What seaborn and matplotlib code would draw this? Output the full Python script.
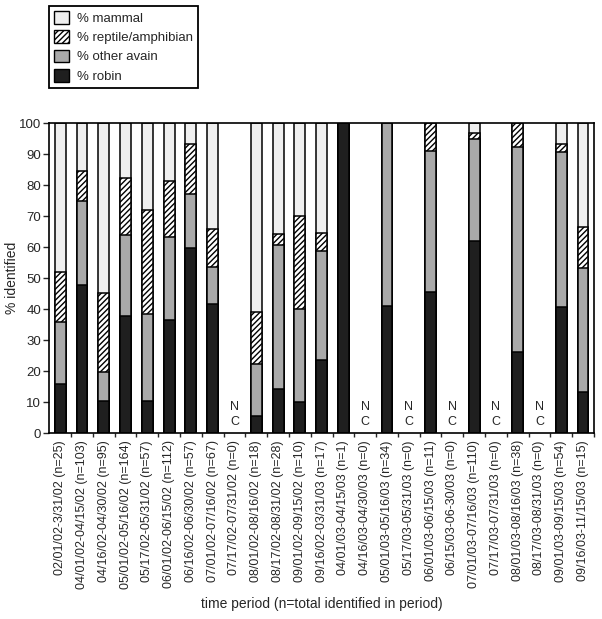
import pandas as pd
import seaborn as sns
import numpy as np
import matplotlib.pyplot as plt
from matplotlib.patches import Patch
from matplotlib.ticker import MultipleLocator, FixedLocator

# periods and their sample sizes
periods = ["02/01/02-3/31/02 (n=25)", "04/01/02-04/15/02 (n=103)", "04/16/02-04/30/02 (n=95)",
           "05/01/02-05/16/02 (n=164)", "05/17/02-05/31/02 (n=57)", "06/01/02-06/15/02 (n=112)",
           "06/16/02-06/30/02 (n=57)", "07/01/02-07/16/02 (n=67)", "07/17/02-07/31/02 (n=0)",
           "08/01/02-08/16/02 (n=18)", "08/17/02-08/31/02 (n=28)", "09/01/02-09/15/02 (n=10)",
           "09/16/02-03/31/03 (n=17)", "04/01/03-04/15/03 (n=1)", "04/16/03-04/30/03 (n=0)",
           "05/01/03-05/16/03 (n=34)", "05/17/03-05/31/03 (n=0)", "06/01/03-06/15/03 (n=11)",
           "06/15/03-06-30/03 (n=0)", "07/01/03-07/16/03 (n=110)", "07/17/03-07/31/03 (n=0)",
           "08/01/03-08/16/03 (n=38)", "08/17/03-08/31/03 (n=0)", "09/01/03-09/15/03 (n=54)",
           "09/16/03-11/15/03 (n=15)"]

# percent of prey identified in each period (nan = no collection)
nan = np.nan
robin = [16, 47.7, 10.5, 37.9, 10.5, 36.7, 59.7, 41.8, nan, 5.6, 14.3, 10, 23.5, 100, nan,
         41.2, nan, 45.5, nan, 62.1, nan, 26.3, nan, 40.8, 13.3]
other_avian = [20, 27.1, 9.2, 26.2, 28.1, 26.7, 17.5, 11.8, nan, 16.7, 46.4, 30, 35.3, 0, nan,
               58.8, nan, 45.5, nan, 32.8, nan, 66.1, nan, 50.1, 40]
reptile = [16, 9.9, 25.6, 18.4, 33.3, 18, 16.1, 12.2, nan, 16.7, 3.6, 30, 5.9, 0, nan,
           0, nan, 9.1, nan, 2.1, nan, 7.6, nan, 2.3, 13.3]
mammal = [48, 15.3, 54.7, 17.5, 28.1, 18.6, 6.7, 34.2, nan, 61.1, 35.7, 30, 35.3, 0, nan,
          0, nan, 0, nan, 3.0, nan, 0, nan, 6.8, 33.4]

df = pd.DataFrame({"period": periods, "robin": robin, "other": other_avian,
                   "reptile": reptile, "mammal": mammal})
# cumulative tops for stacking
df["top_robin"] = df["robin"]
df["top_other"] = df["top_robin"] + df["other"]
df["top_reptile"] = df["top_other"] + df["reptile"]
df["top_mammal"] = df["top_reptile"] + df["mammal"]

sns.set_style("ticks")
plt.rcParams['font.family'] = ['Liberation Sans', 'DejaVu Sans']
plt.rcParams['hatch.linewidth'] = 1.0

fig = plt.figure(figsize=(6.02, 6.19), dpi=100)
ax = fig.add_axes([0.082, 0.300, 0.9045, 0.5008])

layers = [("top_mammal", "#efefef", None), ("top_reptile", "white", "//////"),
          ("top_other", "#a9a9a9", None), ("top_robin", "#1f1f1f", None)]
for col, colr, hatch in layers:
    sns.barplot(data=df, x="period", y=col, order=periods, color=colr, saturation=1,
                width=0.5, edgecolor="black", linewidth=1.1, hatch=hatch, ax=ax, errorbar=None)

# no-collection markers
for i, p in enumerate(periods):
    if np.isnan(df["robin"][i]):
        ax.text(i, 8.6, "N", ha="center", va="center", fontsize=9)
        ax.text(i, 3.6, "C", ha="center", va="center", fontsize=9)

ax.set_xlim(-0.5, len(periods) - 0.5)
ax.set_ylim(0, 100)
ax.yaxis.set_major_locator(MultipleLocator(10))
ax.xaxis.set_minor_locator(FixedLocator(np.arange(len(periods)) + 0.5))
ax.tick_params(axis="x", which="major", length=0, labelrotation=90, labelsize=9, pad=5)
ax.tick_params(axis="x", which="minor", length=3, width=1, direction="out")
ax.tick_params(axis="y", length=4, width=1, labelsize=9.5, pad=2)
for s in ax.spines.values():
    s.set_linewidth(1.2)
    s.set_color("black")

ax.set_xlabel("time period (n=total identified in period)", fontsize=10, labelpad=6)
ax.set_ylabel("% identified", fontsize=10)
ax.yaxis.set_label_coords(-0.056, 0.5)

handles = [Patch(facecolor="#efefef", edgecolor="black", label="% mammal"),
           Patch(facecolor="white", edgecolor="black", hatch="//////", label="% reptile/amphibian"),
           Patch(facecolor="#a9a9a9", edgecolor="black", label="% other avain"),
           Patch(facecolor="#1f1f1f", edgecolor="black", label="% robin")]
leg = fig.legend(handles=handles, loc="upper left", bbox_to_anchor=(0.0814, 0.991),
                 fontsize=9.5, frameon=True, fancybox=False, borderaxespad=0,
                 handlelength=1.1, handleheight=1.1, labelspacing=0.42, handletextpad=0.6,
                 borderpad=0.4)
leg.get_frame().set_edgecolor("black")
leg.get_frame().set_linewidth(1.3)
leg.get_frame().set_alpha(1)

plt.savefig("out.png", dpi=100)
